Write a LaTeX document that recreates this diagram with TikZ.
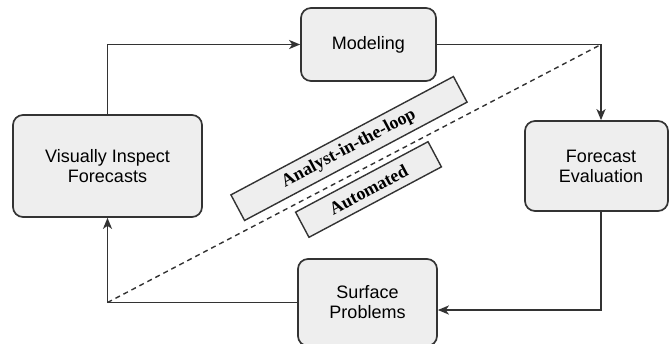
\documentclass[tikz,border=0pt]{standalone}
\usepackage{fontspec}
\setmainfont{Liberation Sans}
\newfontfamily\serifbold{Liberation Serif}
\usetikzlibrary{arrows.meta}
\definecolor{linegray}{HTML}{333333}
\definecolor{boxgray}{HTML}{EEEEEE}
\begin{document}
\begin{tikzpicture}[x=1pt,y=-1pt,
  box/.style={draw=linegray, fill=boxgray, line width=1.7pt, rounded corners=10pt,
    inner sep=0pt, align=center, font=\fontsize{18}{20}\selectfont},
  boxtext/.style={inner sep=0pt, align=center, font=\fontsize{18}{20}\selectfont},
  tag/.style={draw=linegray, fill=boxgray, line width=1.4pt, rotate=28, inner sep=0pt,
    font=\serifbold\bfseries\fontsize{18}{20}\selectfont},
  flow/.style={draw=linegray, line width=1.8pt, -{Stealth[length=11pt,width=9pt,inset=3pt]}},
  divider/.style={draw=linegray, line width=1.4pt, dash pattern=on 5pt off 4pt}]
  \clip (0,0) rectangle (669,343);

  % process boxes
  \node[box, minimum width=135pt, minimum height=73pt] (model) at (368.5,44.5) {Modeling};
  \node[box, minimum width=189pt, minimum height=102pt] (inspect) at (107.5,166) {Visually Inspect\\Forecasts};
  \node[box, minimum width=143pt, minimum height=90pt] (evalbox) at (596.5,166) {};
  \node[boxtext] (evaltext) at (601,166) {Forecast\\Evaluation};
  \node[box, minimum width=139pt, minimum height=87pt] (surface) at (367.5,302.5) {Surface\\Problems};

  % loop corners
  \coordinate (ne) at (evaltext |- model.east);
  \coordinate (sw) at (inspect.south |- surface.west);

  % the cycle
  \draw[flow] (inspect.north) |- (model.west);
  \draw[flow] (model.east) -| (evaltext |- evalbox.north);
  \draw[flow] (evaltext |- evalbox.south) |- ([yshift=-7.5pt]surface.east);
  \draw[flow] (surface.west) -| (inspect.south);

  % boundary between manual and automated work
  \draw[divider] (sw) -- (ne);

  \node[tag, minimum width=252pt, minimum height=29pt] (analyst) at (349,148.5) {Analyst-in-the-loop};
  \node[tag, minimum width=150pt, minimum height=28.5pt] (auto) at (368.5,189.5) {Automated};
\end{tikzpicture}
\end{document}
